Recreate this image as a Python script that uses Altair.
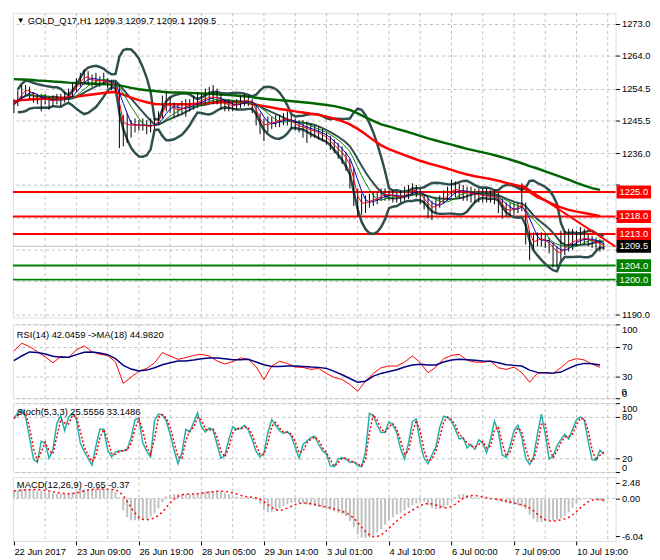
import json
import altair as alt
import pandas as pd

# ---------------- text ----------------
MENU_MARK = "\u25BC"
TITLE = "GOLD_Q17,H1  1209.3 1209.7 1209.1 1209.5"
RSI_TEXT = "RSI(14) 42.0459  ->MA(18) 44.9820"
STOCH_TEXT = "Stoch(5,3,3) 25.5556 33.1486"
MACD_TEXT = "MACD(12,26,9) -0.65 -0.37"
DATE_LABELS = ["22 Jun 2017", "23 Jun 09:00", "26 Jun 19:00", "28 Jun 05:00", "29 Jun 14:00",
               "3 Jul 01:00", "4 Jul 10:00", "6 Jul 00:00", "7 Jul 09:00", "10 Jul 19:00"]

PRICE_TICKS = [1273.0, 1264.0, 1254.5, 1245.5, 1236.0, 1227.0, 1217.5, 1208.5, 1199.5, 1190.0]
PRICE_LABELLED = [1273.0, 1264.0, 1254.5, 1245.5, 1236.0, 1190.0]
RSI_TICKS = [100, 70, 30, 0]
RSI_BOTTOM = "0"
STOCH_TICKS = [100, 80, 20, 0]
MACD_TICKS = [2.48, 0.0, -6.04]

RED_LEVELS = [1225.0, 1218.0, 1213.0]
GREEN_LEVELS = [1204.0, 1200.0]
LAST_PRICE = 1209.5
TREND_BAR = [130, 154]
TREND_PRICE = [1227.0, 1209.4]

# ---------------- price bars (one per 2 hours) ----------------
CLOSE = [
    1250.0, 1252.0, 1253.5, 1254.3, 1253.5, 1252.0, 1251.5, 1251.3,
    1251.6, 1251.0, 1251.0, 1251.5, 1251.2, 1251.8, 1252.5, 1254.0,
    1255.5, 1257.0, 1258.2, 1257.5, 1256.6, 1257.0, 1256.5, 1257.0,
    1256.2, 1255.8, 1255.3, 1246.0, 1244.0, 1244.5, 1243.8, 1244.3,
    1243.9, 1244.2, 1243.5, 1244.0, 1244.3, 1245.8, 1249.0, 1250.5,
    1249.3, 1248.6, 1248.4, 1249.0, 1249.5, 1249.9, 1250.3, 1250.8,
    1251.3, 1251.8, 1252.2, 1251.9, 1252.0, 1250.7, 1250.0, 1249.8,
    1249.6, 1249.9, 1250.8, 1251.2, 1251.0, 1250.0, 1247.0, 1244.8,
    1243.8, 1244.5, 1244.8, 1245.2, 1245.5, 1245.8, 1245.9, 1245.0,
    1244.0, 1243.7, 1243.5, 1242.8, 1242.6, 1242.2, 1241.7, 1241.0,
    1240.2, 1239.0, 1237.8, 1236.9, 1235.6, 1234.0, 1231.8, 1225.5,
    1222.3, 1221.5, 1222.1, 1222.5, 1222.9, 1223.2, 1224.2, 1224.4,
    1224.2, 1223.8, 1223.6, 1223.5, 1224.3, 1225.0, 1225.8, 1225.2,
    1223.8, 1222.6, 1221.0, 1220.4, 1221.3, 1222.3, 1223.3, 1224.4,
    1225.7, 1225.8, 1225.2, 1224.9, 1224.8, 1224.5, 1224.3, 1224.2,
    1224.0, 1223.8, 1223.7, 1223.9, 1222.6, 1220.5, 1219.7, 1219.8,
    1220.4, 1220.6, 1222.0, 1216.0, 1211.0, 1210.6, 1211.8, 1211.6,
    1211.0, 1210.0, 1208.6, 1207.3, 1208.2, 1209.5, 1210.4, 1211.0,
    1211.3, 1211.6, 1211.9, 1211.4, 1211.0, 1210.5, 1210.0, 1209.5]
HIGH = [
    1251.5, 1254.0, 1255.5, 1255.5, 1255.0, 1253.5, 1253.0, 1253.0,
    1253.0, 1252.5, 1252.5, 1253.0, 1253.0, 1253.5, 1254.5, 1256.0,
    1257.5, 1259.0, 1260.0, 1259.5, 1258.5, 1259.0, 1258.0, 1259.0,
    1257.5, 1257.0, 1256.5, 1255.5, 1247.0, 1247.5, 1245.5, 1246.0,
    1245.5, 1246.0, 1245.5, 1246.0, 1246.0, 1248.0, 1252.5, 1253.5,
    1252.0, 1250.5, 1250.0, 1251.0, 1251.5, 1251.5, 1252.5, 1253.5,
    1253.0, 1254.5, 1255.0, 1255.5, 1254.5, 1253.0, 1251.5, 1251.5,
    1251.0, 1251.5, 1252.5, 1253.0, 1252.5, 1251.5, 1250.0, 1247.5,
    1246.0, 1246.5, 1246.5, 1247.0, 1247.0, 1247.5, 1248.0, 1247.0,
    1246.0, 1245.5, 1245.5, 1245.0, 1244.5, 1244.0, 1243.5, 1243.0,
    1242.0, 1241.0, 1240.0, 1239.0, 1238.0, 1236.5, 1234.5, 1232.0,
    1226.0, 1224.5, 1224.0, 1224.5, 1225.0, 1225.0, 1226.0, 1226.0,
    1225.5, 1225.5, 1225.0, 1225.5, 1226.5, 1227.0, 1227.5, 1227.0,
    1226.0, 1224.5, 1223.5, 1222.5, 1223.0, 1224.0, 1225.5, 1226.5,
    1228.5, 1228.0, 1227.5, 1227.0, 1226.5, 1226.5, 1226.0, 1226.0,
    1226.0, 1226.0, 1225.5, 1225.5, 1225.0, 1223.0, 1222.0, 1222.0,
    1222.0, 1222.0, 1227.5, 1222.0, 1214.0, 1213.5, 1213.5, 1213.5,
    1213.0, 1212.0, 1210.5, 1209.5, 1214.0, 1214.0, 1214.5, 1214.5,
    1214.0, 1215.0, 1214.5, 1213.0, 1212.5, 1212.0, 1211.5, 1210.5]
LOW = [
    1247.5, 1249.5, 1251.5, 1252.5, 1251.5, 1250.5, 1250.0, 1248.0,
    1250.0, 1248.5, 1249.5, 1250.0, 1249.5, 1250.5, 1251.0, 1252.0,
    1253.5, 1255.0, 1256.0, 1255.5, 1255.0, 1255.5, 1255.0, 1255.5,
    1254.5, 1254.0, 1253.5, 1237.5, 1238.0, 1239.0, 1240.5, 1242.0,
    1242.5, 1242.5, 1241.5, 1242.0, 1243.0, 1244.0, 1246.0, 1248.0,
    1247.5, 1246.5, 1246.5, 1247.0, 1246.5, 1248.0, 1248.5, 1249.0,
    1249.5, 1250.0, 1250.5, 1250.0, 1250.0, 1248.5, 1248.0, 1248.0,
    1248.0, 1248.5, 1249.0, 1249.5, 1249.5, 1247.5, 1244.0, 1241.5,
    1239.5, 1242.0, 1243.0, 1243.5, 1243.5, 1244.0, 1244.0, 1243.0,
    1242.5, 1242.0, 1240.5, 1239.0, 1240.5, 1240.5, 1240.0, 1239.5,
    1238.5, 1237.0, 1236.0, 1234.5, 1233.0, 1231.0, 1226.0, 1221.0,
    1218.0, 1218.5, 1219.0, 1220.5, 1221.0, 1221.5, 1222.5, 1222.5,
    1222.5, 1222.0, 1222.0, 1222.0, 1222.5, 1223.0, 1224.0, 1223.5,
    1221.5, 1220.0, 1217.5, 1217.0, 1219.0, 1220.5, 1221.5, 1222.5,
    1223.5, 1223.5, 1223.0, 1222.5, 1222.5, 1222.0, 1222.0, 1222.0,
    1222.0, 1222.0, 1222.0, 1221.5, 1219.0, 1217.5, 1218.0, 1218.0,
    1218.5, 1219.0, 1219.5, 1210.0, 1205.5, 1208.5, 1209.5, 1209.5,
    1209.0, 1207.5, 1203.5, 1203.5, 1205.5, 1207.0, 1208.0, 1208.5,
    1209.5, 1210.0, 1210.0, 1209.5, 1209.0, 1208.5, 1208.0, 1208.5]

# ---------------- long moving averages (every 4 hours) ----------------
SLOW_RED = [
    1250.8, 1251.2, 1251.4, 1251.5, 1251.6, 1251.7, 1251.8, 1252.0, 1252.2, 1252.5,
    1252.8, 1253.1, 1253.4, 1253.5, 1252.8, 1251.9, 1251.2, 1250.6, 1250.1, 1250.0,
    1250.0, 1250.0, 1250.0, 1250.1, 1250.2, 1250.4, 1250.5, 1250.6, 1250.6, 1250.6,
    1250.4, 1249.9, 1249.5, 1249.1, 1248.7, 1248.4, 1248.0, 1247.7, 1247.3, 1247.0,
    1246.5, 1245.9, 1245.2, 1244.3, 1243.0, 1241.5, 1239.8, 1238.3, 1237.2, 1236.4,
    1235.5, 1234.7, 1233.9, 1233.2, 1232.6, 1232.0, 1231.3, 1230.6, 1230.0, 1229.5,
    1229.1, 1228.7, 1228.2, 1227.6, 1227.1, 1226.5, 1225.0, 1223.5, 1222.6, 1221.5,
    1220.6, 1219.9, 1219.4, 1219.0, 1218.6, 1218.1]
SLOW_GREEN = [
    1257.2, 1257.1, 1257.0, 1256.8, 1256.7, 1256.5, 1256.4, 1256.2, 1256.1, 1256.0,
    1255.9, 1255.8, 1255.7, 1255.6, 1255.2, 1254.7, 1254.3, 1254.0, 1253.8, 1253.6,
    1253.4, 1253.4, 1253.3, 1253.2, 1253.1, 1253.0, 1252.9, 1252.7, 1252.6, 1252.4,
    1252.2, 1251.9, 1251.6, 1251.4, 1251.2, 1251.0, 1250.8, 1250.6, 1250.4, 1250.1,
    1249.8, 1249.5, 1249.0, 1248.4, 1247.4, 1246.3, 1245.3, 1244.3, 1243.7, 1243.0,
    1242.4, 1241.7, 1241.0, 1240.3, 1239.7, 1239.1, 1238.5, 1237.9, 1237.3, 1236.8,
    1236.3, 1235.8, 1235.2, 1234.6, 1233.9, 1233.2, 1232.4, 1231.7, 1230.9, 1230.1,
    1229.3, 1228.5, 1227.6, 1226.8, 1226.1, 1225.6]

# ---------------- RSI (every 4 hours) ----------------
RSI = [
    64, 74.5, 70, 63, 56, 48, 56.5, 55, 65.5, 71,
    62.7, 59.5, 58, 49, 20, 28.5, 36.8, 40.4, 48, 61.8,
    57.2, 52.7, 55, 58, 59.5, 57.2, 50.4, 46.3, 49.5, 54.5,
    52.7, 42.7, 25.4, 43.6, 50, 47.2, 42.2, 41.8, 39, 40.4,
    33.6, 28.1, 25.4, 18.6, 9.5, 23.1, 33.6, 41.3, 43.6, 43.6,
    49, 57.2, 48.1, 34.5, 42.2, 53.6, 58, 59.5, 51.3, 49,
    48.6, 50.4, 41.3, 39, 42.2, 34.5, 21.7, 33.6, 34.5, 33.6,
    41.3, 50.4, 53.6, 51.8, 46.3, 42.0]
RSI_MA = [
    50.8, 57.2, 62.7, 61.8, 60, 56.8, 55.4, 55.4, 59, 62.2,
    62.7, 61.3, 59, 53.6, 44.5, 39.5, 36.8, 38.1, 41.3, 45.4,
    48.1, 50.4, 50.4, 51.8, 53.6, 54.5, 54.5, 53.6, 52.2, 52.2,
    52.7, 49, 45.4, 43.1, 43.1, 43.6, 43.6, 43.1, 42.2, 41.8,
    40.4, 36.3, 31.8, 26.7, 21.7, 23.1, 29.9, 33.6, 36.3, 38.6,
    42.2, 45, 45.9, 45, 45, 49, 51.8, 52.7, 52.2, 51.3,
    50.4, 50, 48.1, 45.4, 44.5, 43.6, 38.1, 35, 34.5, 34,
    35.4, 40.4, 45, 47.2, 46.8, 45.0]

# ---------------- Stochastic %K and MACD (every 2 hours) ----------------
STOCH = [
    78, 86, 90, 80, 50, 19, 14, 45, 42, 20, 33, 71, 82, 60, 80, 85,
    76, 42, 30, 20, 10, 38, 62, 62, 32, 22, 29, 31, 31, 33, 50, 76,
    78, 42, 30, 22, 75, 84, 83, 74, 55, 32, 12, 28, 62, 58, 72, 86,
    66, 58, 64, 61, 40, 20, 24, 47, 66, 62, 63, 68, 61, 47, 30, 22,
    28, 57, 76, 68, 60, 56, 59, 52, 36, 20, 40, 45, 50, 52, 40, 31,
    26, 9, 8, 19, 21, 19, 14, 15, 9, 8, 30, 85, 82, 68, 57, 58,
    73, 68, 57, 33, 19, 42, 73, 77, 42, 20, 12, 25, 36, 65, 81, 79,
    74, 62, 48, 50, 35, 40, 33, 47, 42, 28, 48, 74, 58, 25, 21, 38,
    60, 68, 50, 20, 11, 22, 55, 84, 55, 19, 23, 38, 47, 55, 48, 62,
    76, 80, 75, 45, 18, 17, 32, 26]
MACD = [
    1.2, 1.3, 1.5, 1.5, 1.5, 1.4, 1.3, 1.2, 1.0, 0.95, 0.8, 0.7, 0.7, 0.7, 0.8, 0.95,
    1.2, 1.5, 1.5, 1.5, 1.5, 1.5, 1.5, 1.5, 1.4, 1.3, 1.0, 0.2, -1.9, -3.0, -3.5, -3.5,
    -3.5, -3.4, -3.3, -2.9, -2.4, -1.6, -0.6, 0.3, 0.6, 0.7, 0.7, 0.7, 0.7, 0.7, 0.75, 0.9,
    1.0, 1.1, 1.2, 1.2, 1.2, 1.1, 0.95, 0.7, 0.45, 0.3, 0.15, 0.15, 0.15, 0.1, -0.2, -0.8,
    -1.9, -2.2, -2.2, -1.9, -1.6, -1.2, -0.9, -0.7, -0.6, -0.7, -0.8, -1.0, -1.1, -1.25, -1.4, -1.5,
    -1.65, -1.8, -2.1, -2.3, -2.5, -2.8, -3.6, -4.6, -5.8, -6.3, -6.4, -6.3, -6.0, -5.5, -4.9, -4.2,
    -3.4, -3.0, -2.6, -2.3, -1.9, -1.5, -1.1, -0.8, -0.5, -0.5, -1.1, -1.5, -1.7, -1.7, -1.5, -1.1,
    -0.4, 0.2, 0.6, 0.7, 0.5, 0.35, 0.2, 0.1, -0.05, -0.1, -0.15, -0.2, -0.4, -0.6, -0.75, -0.9,
    -1.0, -1.15, -1.3, -1.7, -2.6, -3.3, -3.8, -3.8, -3.6, -3.5, -3.5, -3.4, -3.2, -2.8, -2.2, -1.5,
    -0.8, -0.3, -0.1, -0.1, -0.15, -0.2, -0.35, -0.6]

# ---------------- tables ----------------
N = len(CLOSE)
bars_df = pd.DataFrame({"i": list(range(N)), "close": CLOSE, "high": HIGH, "low": LOW})
slow_df = pd.DataFrame({"i": list(range(0, N, 2)), "red": SLOW_RED, "green": SLOW_GREEN})
rsi_df = pd.DataFrame({"i": list(range(0, N, 2)), "rsi": RSI, "ma": RSI_MA})
osc_df = pd.DataFrame({"i": list(range(N)), "stoch": STOCH, "macd": MACD})
grid_df = pd.DataFrame({"i": list(range(8, N + 1, 8))})
trend_df = pd.DataFrame({"i": TREND_BAR, "p": TREND_PRICE})

# ---------------- style ----------------
W = 612
H_MAIN, H_RSI, H_STOCH, H_MACD = 309, 75, 70, 65
FONT = "Liberation Sans"
FS = 9.5
GRID = "#c0c0c0"
BAND = "#2f4f4f"
xs = alt.Scale(domain=[-0.25, 154.0], nice=False, zero=False)

# top/bottom labels of the 0..100 oscillators hang inside the panel
EDGE_BASELINE = {
    "condition": [
        {"test": "datum.value >= 100", "value": "top"},
        {"test": "datum.value <= 0", "value": "bottom"},
    ],
    "value": "middle",
}


def yaxis(values, grid=True, expr=None, baseline=None):
    kw = dict(orient="right", values=values, grid=grid, gridColor=GRID, gridDash=[3, 3],
              tickColor="black", tickSize=4, domain=False, labelFont=FONT, labelFontSize=FS,
              labelColor="black", title=None, labelPadding=2, labelFlush=False,
              labelOverlap=False, labelBound=False)
    if expr:
        kw["labelExpr"] = expr
    if baseline:
        kw["labelBaseline"] = baseline
    return alt.Axis(**kw)


def X(axis=None):
    return alt.X("i", type="quantitative", scale=xs, axis=axis)


def vgrid(axis=None):
    return alt.Chart(grid_df).mark_rule(color=GRID, strokeDash=[3, 3], strokeWidth=1).encode(x=X(axis))


def label(text, y, x=4, size=FS):
    return alt.Chart(pd.DataFrame({"t": [text]})).mark_text(
        align="left", baseline="middle", font=FONT, fontSize=size, color="black"
    ).encode(x=alt.value(x), y=alt.value(y), text="t:N")


# ---------------- main price panel ----------------
ys = alt.Scale(domain=[1189.2, 1276.0], nice=False, zero=False)
price_axis = yaxis(
    PRICE_TICKS,
    expr="indexof(" + json.dumps(PRICE_LABELLED) + ", datum.value) >= 0 ? format(datum.value, '.1f') : ''")


def PY(f):
    return alt.Y(f, type="quantitative", scale=ys, axis=price_axis)


def hline(vals, color, width):
    return alt.Chart(pd.DataFrame({"p": vals})).mark_rule(color=color, strokeWidth=width).encode(y=PY("p"))


def box(vals, color):
    return alt.Chart(pd.DataFrame({"p": vals})).mark_rect(
        color=color, yOffset=-6.5, y2Offset=6.5
    ).encode(x=alt.value(W + 1), x2=alt.value(W + 36), y=PY("p"), y2="p:Q")


sort_i = [alt.SortField("i")]
base = alt.Chart(bars_df)
bb = base.transform_window(mid="mean(close)", sd="stdev(close)", frame=[-9, 0], sort=sort_i) \
    .transform_calculate(upper="datum.mid + 2.3*datum.sd", lower="datum.mid - 2.3*datum.sd")
thin = base.transform_window(m1="mean(close)", frame=[-1, 0], sort=sort_i) \
    .transform_window(m2="mean(close)", frame=[-3, 0], sort=sort_i) \
    .transform_window(m3="mean(close)", frame=[-6, 0], sort=sort_i)

all_levels = RED_LEVELS + [LAST_PRICE] + GREEN_LEVELS
level_text = alt.Chart(pd.DataFrame({"p": all_levels})).transform_calculate(
    t="format(datum.p, '.1f')"
).mark_text(align="left", baseline="middle", font=FONT, fontSize=FS, color="white").encode(
    x=alt.value(W + 4), y=PY("p"), text="t:N")

main = alt.layer(
    vgrid(),
    hline([LAST_PRICE], GRID, 1),
    hline(RED_LEVELS, "#ff0000", 2),
    hline(GREEN_LEVELS, "#008000", 2),
    bb.mark_line(color=BAND, strokeWidth=2.5).encode(x=X(), y=PY("upper")),
    bb.mark_line(color=BAND, strokeWidth=2.5).encode(x=X(), y=PY("lower")),
    bb.mark_line(color=BAND, strokeWidth=2).encode(x=X(), y=PY("mid")),
    alt.Chart(slow_df).mark_line(color="#006400", strokeWidth=2.5).encode(x=X(), y=PY("green")),
    alt.Chart(slow_df).mark_line(color="#ff0000", strokeWidth=2.5).encode(x=X(), y=PY("red")),
    base.mark_rule(color="black", strokeWidth=1).encode(x=X(), y=PY("low"), y2="high:Q"),
    thin.mark_line(color="#008000", strokeWidth=1).encode(x=X(), y=PY("m3")),
    thin.mark_line(color="#0000c0", strokeWidth=1).encode(x=X(), y=PY("m2")),
    thin.mark_line(color="#ff0000", strokeWidth=1).encode(x=X(), y=PY("m1")),
    alt.Chart(trend_df).mark_line(color="#ff0000", strokeWidth=2, clip=True).encode(x=X(), y=PY("p")),
    box(RED_LEVELS, "#ff0000"),
    box([LAST_PRICE], "#000000"),
    box(GREEN_LEVELS, "#008000"),
    level_text,
    label(MENU_MARK, 8, 4, 8),
    label(TITLE, 8, 15),
).properties(width=W, height=H_MAIN)

# ---------------- RSI panel ----------------
rs = alt.Scale(domain=[0, 100], nice=False)
rsi_axis = yaxis(RSI_TICKS, baseline=EDGE_BASELINE)
rsi_panel = alt.layer(
    vgrid(),
    alt.Chart(rsi_df).mark_line(color="#ff0000", strokeWidth=1).encode(
        x=X(), y=alt.Y("rsi", type="quantitative", scale=rs, axis=rsi_axis)),
    alt.Chart(rsi_df).mark_line(color="#000080", strokeWidth=1.5).encode(
        x=X(), y=alt.Y("ma", type="quantitative", scale=rs, axis=rsi_axis)),
    label(RSI_BOTTOM, H_RSI - 6, W + 6),
    label(RSI_TEXT, 11),
).properties(width=W, height=H_RSI)

# ---------------- Stochastic panel ----------------
st_axis = yaxis(STOCH_TICKS, baseline=EDGE_BASELINE)
osc = alt.Chart(osc_df)
stoch_sig = osc.transform_window(sig="mean(stoch)", frame=[-1, 0], sort=sort_i)
stoch_panel = alt.layer(
    vgrid(),
    osc.mark_line(color="#20b2aa", strokeWidth=1.5).encode(
        x=X(), y=alt.Y("stoch", type="quantitative", scale=rs, axis=st_axis)),
    stoch_sig.mark_line(color="#ff0000", strokeWidth=1.5, strokeDash=[2, 2]).encode(
        x=X(), y=alt.Y("sig", type="quantitative", scale=rs, axis=st_axis)),
    label(STOCH_TEXT, 9),
).properties(width=W, height=H_STOCH)

# ---------------- MACD panel ----------------
ms = alt.Scale(domain=[-6.83, 3.43], nice=False, zero=False)
macd_axis = yaxis(MACD_TICKS, grid=False,
                  expr="(datum.value < 0 ? '-' : '') + format(abs(datum.value), '.2f')")
date_axis = alt.Axis(values=list(range(0, 145, 16)),
                     labelExpr=json.dumps(DATE_LABELS) + "[round(datum.value / 16)]",
                     labelAlign="left", labelFont=FONT, labelFontSize=FS, labelColor="black",
                     tickColor="black", tickSize=4, domain=False, grid=False, title=None,
                     labelPadding=2, labelFlush=False, labelOverlap=False, labelBound=False)


def MY(f):
    return alt.Y(f, type="quantitative", scale=ms, axis=macd_axis)


macd_sig = osc.transform_window(sig="mean(macd)", frame=[-4, 0], sort=sort_i)
macd_panel = alt.layer(
    vgrid(date_axis),
    alt.Chart(pd.DataFrame({"v": [0.0]})).mark_rule(color=GRID, strokeDash=[3, 3]).encode(y=MY("v")),
    osc.transform_calculate(zero="0").mark_rule(color="#c0c0c0", strokeWidth=2).encode(
        x=X(date_axis), y=MY("zero:Q"), y2="macd:Q"),
    macd_sig.mark_line(color="#ff0000", strokeWidth=1.5, strokeDash=[2, 3]).encode(
        x=X(date_axis), y=MY("sig:Q")),
    label(MACD_TEXT, 8),
).properties(width=W, height=H_MACD)

chart = alt.vconcat(main, rsi_panel, stoch_panel, macd_panel, spacing=3).properties(
    padding={"left": 0, "top": 0, "right": 0, "bottom": 0}
).configure_view(stroke="black", strokeWidth=1).configure(background="white")

chart.save("out.html", embed_options={"renderer": "svg", "actions": False})
